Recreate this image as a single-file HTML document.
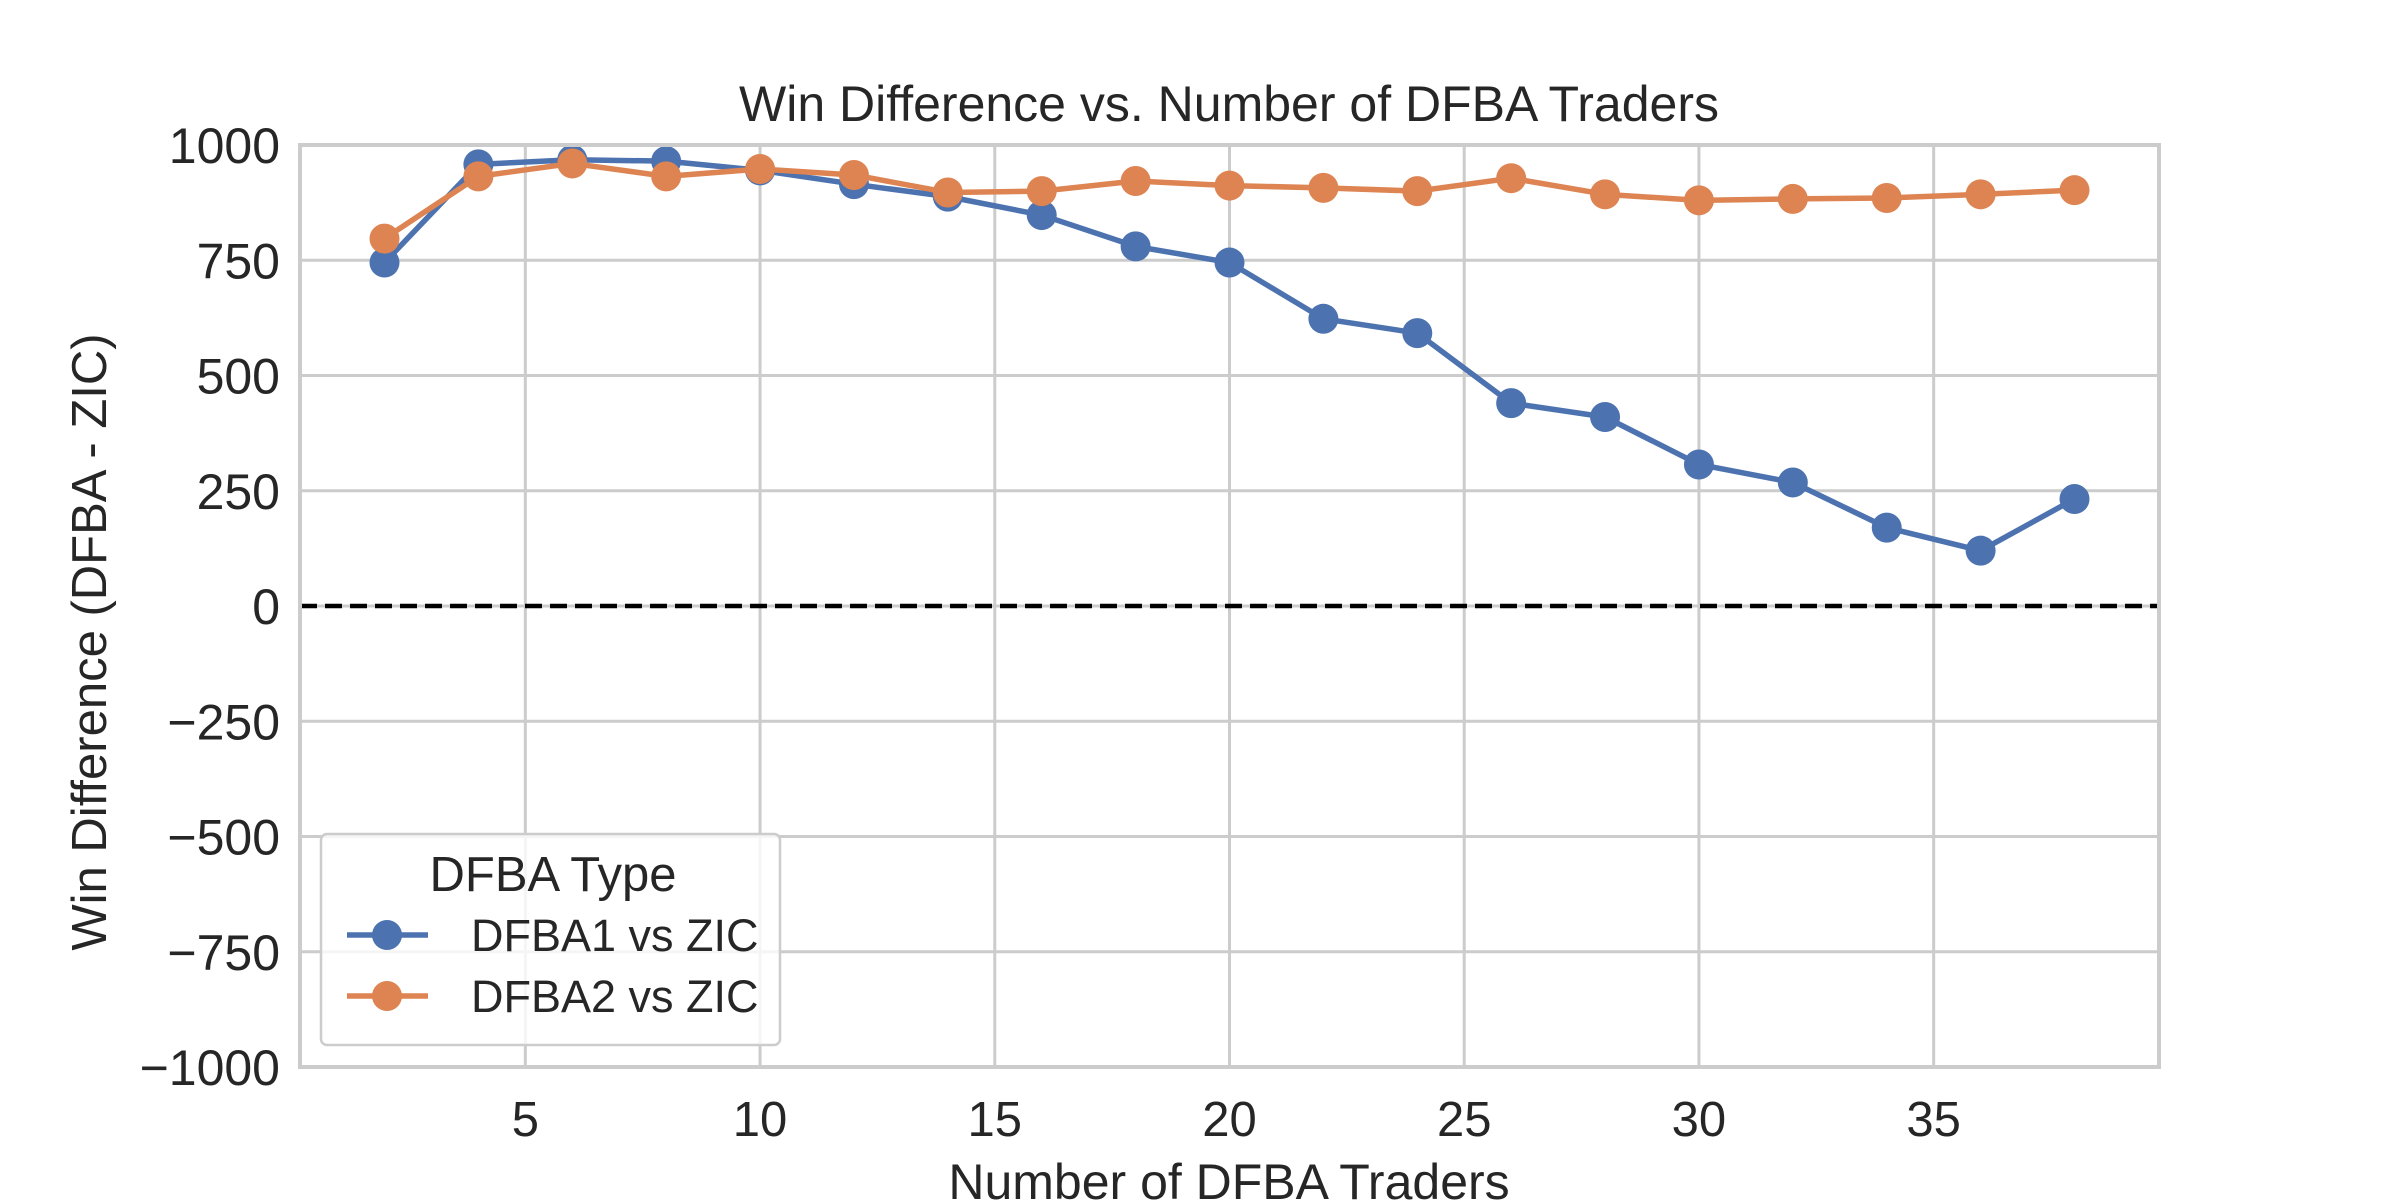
<!DOCTYPE html>
<html><head><meta charset="utf-8"><style>
html,body{margin:0;padding:0;background:#fff;}
svg{display:block;font-family:"Liberation Sans",sans-serif;}
</style></head><body>
<svg id="chart" width="2400" height="1200" viewBox="0 0 2400 1200" xmlns="http://www.w3.org/2000/svg">
<rect width="2400" height="1200" fill="#fff"/>
<g id="grid"></g>
<g id="ticks"></g>
<g id="series"></g>
<rect x="300" y="145" width="1859" height="922" fill="none" stroke="#cccccc" stroke-width="4"/>
<text x="1229" y="121" text-anchor="middle" font-size="50" fill="#262626">Win Difference vs. Number of DFBA Traders</text>
<text x="0" y="0" transform="translate(106,642) rotate(-90)" text-anchor="middle" font-size="49" fill="#262626">Win Difference (DFBA - ZIC)</text>
<text x="1229" y="1199" text-anchor="middle" font-size="50" fill="#262626">Number of DFBA Traders</text>
<g>
<rect x="321" y="834" width="459" height="211" rx="6" fill="#fff" fill-opacity="0.8" stroke="#cccccc" stroke-width="2.5"/>
<text x="553" y="891" text-anchor="middle" font-size="49" fill="#262626">DFBA Type</text>
<g>
<line x1="347" y1="935" x2="428" y2="935" stroke="#4c72b0" stroke-width="5.5"/>
<circle cx="387" cy="935" r="15" fill="#4c72b0"/>
<text x="471" y="951" font-size="45" fill="#262626">DFBA1 vs ZIC</text>
</g>
<g>
<line x1="347" y1="996" x2="428" y2="996" stroke="#dd8452" stroke-width="5.5"/>
<circle cx="387" cy="996" r="15" fill="#dd8452"/>
<text x="471" y="1012" font-size="45" fill="#262626">DFBA2 vs ZIC</text>
</g>
</g>
</svg>
<script>
const xValues = [2,4,6,8,10,12,14,16,18,20,22,24,26,28,30,32,34,36,38];
const dfba1 = [745,958,968,965,945,915,888,848,780,745,623,592,440,410,307,268,170,120,232];
const dfba2 = [797,932,960,932,948,935,897,900,922,912,907,900,928,893,880,883,885,893,902];
const xTicks = [5,10,15,20,25,30,35];
const yTicks = [-1000,-750,-500,-250,0,250,500,750,1000];
const yTickLabels = ["\u22121000","\u2212750","\u2212500","\u2212250","0","250","500","750","1000"];

const NS = "http://www.w3.org/2000/svg";
const L=300,R=2159,T=145,B=1067, XMIN=0.2, XMAX=39.8, YMIN=-1000, YMAX=1000;
function xs(v){return L+(v-XMIN)/(XMAX-XMIN)*(R-L);}
function ys(v){return B-(v-YMIN)/(YMAX-YMIN)*(B-T);}
function mk(tag,attrs,parent){const e=document.createElementNS(NS,tag);for(const k in attrs)e.setAttribute(k,attrs[k]);parent.appendChild(e);return e;}
const grid=document.getElementById('grid'), ticks=document.getElementById('ticks'), series=document.getElementById('series');
xTicks.forEach(t=>{
  const l=mk('line',{x1:xs(t),x2:xs(t),y1:T,y2:B,stroke:'#cccccc','stroke-width':3},grid);
  
  
  const tx=mk('text',{x:xs(t),y:1136,'text-anchor':'middle','font-size':49,fill:'#262626'},ticks);
  tx.textContent=t;
  
  
});
yTicks.forEach((t,i)=>{
  const l=mk('line',{x1:L,x2:R,y1:ys(t),y2:ys(t),stroke:'#cccccc','stroke-width':3},grid);
  
  
  const tx=mk('text',{x:280,y:ys(t)+18,'text-anchor':'end','font-size':50,fill:'#262626'},ticks);
  tx.textContent=yTickLabels[i];
  
  
});
const zl=mk('line',{x1:L,x2:R,y1:ys(0),y2:ys(0),stroke:'#000','stroke-width':4.5,'stroke-dasharray':'17 8'},series);


function drawSeries(vals,color,name){
  const g=mk('g',{},series);
  
  
  const pts=xValues.map((x,i)=>xs(x)+','+ys(vals[i])).join(' ');
  const pl=mk('polyline',{points:pts,fill:'none',stroke:color,'stroke-width':5.5,'stroke-linejoin':'round'},g);
  
  
  xValues.forEach((x,i)=>{
    const c=mk('circle',{cx:xs(x),cy:ys(vals[i]),r:15,fill:color},g);
    
    
  });
}
drawSeries(dfba1,'#4c72b0','dfba1-series');
drawSeries(dfba2,'#dd8452','dfba2-series');
</script>
</body></html>
